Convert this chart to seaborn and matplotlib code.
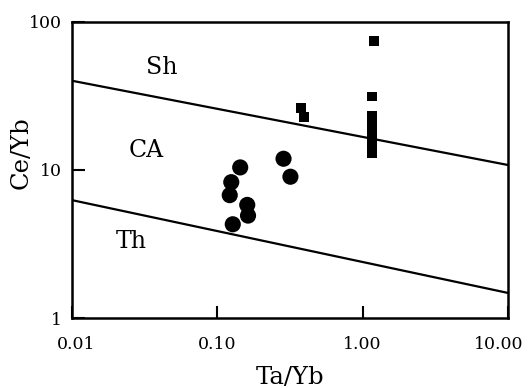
import matplotlib
matplotlib.use("Agg")
import matplotlib.pyplot as plt
import matplotlib.transforms as mtransforms
import seaborn as sns
import pandas as pd

# Data
circle_ta_yb = [0.144, 0.125, 0.122, 0.161, 0.163, 0.128, 0.286, 0.319]
circle_ce_yb = [10.4, 8.27, 6.76, 5.81, 4.92, 4.30, 11.9, 9.0]

square_ta_yb = [0.377, 0.393, 1.20, 1.16, 1.16, 1.16, 1.16, 1.16, 1.16, 1.16, 1.16, 1.16]
square_ce_yb = [26.1, 22.8, 74.6, 31.3, 23.0, 21.3, 19.8, 18.2, 16.8, 15.5, 14.2, 13.0]

boundary_x = [0.01, 10.0]
upper_boundary = [40.0, 10.8]
lower_boundary = [6.26, 1.48]

x_ticks = [0.01, 0.1, 1.0, 10.0]
x_tick_labels = ["0.01", "0.10", "1.00", "10.00"]
y_ticks = [1, 10, 100]
y_tick_labels = ["1", "10", "100"]

field_labels = ["Sh", "CA", "Th"]
field_pos = [(0.206, 0.847), (0.171, 0.567), (0.137, 0.258)]

sns.set_style("white")
plt.rcParams["font.family"] = ["DejaVu Serif"]
plt.rcParams["text.color"] = "black"
plt.rcParams["axes.labelcolor"] = "black"

fig = plt.figure(figsize=(5.28, 3.88), dpi=100)
ax = fig.add_axes([0.136, 0.180, 0.826, 0.764])

circles = pd.DataFrame({"Ta/Yb": circle_ta_yb, "Ce/Yb": circle_ce_yb})
squares = pd.DataFrame({"Ta/Yb": square_ta_yb, "Ce/Yb": square_ce_yb})
upper = pd.DataFrame({"x": boundary_x, "y": upper_boundary})
lower = pd.DataFrame({"x": boundary_x, "y": lower_boundary})

sns.lineplot(data=upper, x="x", y="y", color="black", lw=1.6, ax=ax)
sns.lineplot(data=lower, x="x", y="y", color="black", lw=1.6, ax=ax)
sns.scatterplot(data=circles, x="Ta/Yb", y="Ce/Yb", marker="o", s=135,
                color="black", edgecolor="none", ax=ax, zorder=3)
sns.scatterplot(data=squares, x="Ta/Yb", y="Ce/Yb", marker="s", s=50,
                color="black", edgecolor="none", ax=ax, zorder=3)

ax.set_xscale("log")
ax.set_yscale("log")
ax.set_xlim(0.01, 10)
ax.set_ylim(1, 100)
ax.set_xticks(x_ticks)
ax.set_xticklabels(x_tick_labels)
ax.set_yticks(y_ticks)
ax.set_yticklabels(y_tick_labels)
ax.minorticks_off()
ax.tick_params(axis="both", direction="in", length=9, width=1.5,
               labelsize=12.5, colors="black", bottom=True, left=True)
ax.tick_params(axis="x", pad=13)
ax.tick_params(axis="y", pad=7)

# nudge end labels as in the reference
labels = ax.get_xticklabels()
labels[-1].set_transform(labels[-1].get_transform() +
                         mtransforms.ScaledTranslation(-9 / 100, 0, fig.dpi_scale_trans))
labels[0].set_transform(labels[0].get_transform() +
                        mtransforms.ScaledTranslation(4 / 100, 0, fig.dpi_scale_trans))

for s in ax.spines.values():
    s.set_visible(True)
    s.set_color("black")
    s.set_linewidth(1.8)

ax.set_xlabel("Ta/Yb", fontsize=17.5)
ax.set_ylabel("Ce/Yb", fontsize=17.5)
ax.xaxis.set_label_coords(0.5, -0.162)
ax.yaxis.set_label_coords(-0.09, 0.557)

for lab, (px, py) in zip(field_labels, field_pos):
    ax.text(px, py, lab, transform=ax.transAxes, ha="center", va="center",
            fontsize=17)

fig.savefig("out.png", dpi=100)
